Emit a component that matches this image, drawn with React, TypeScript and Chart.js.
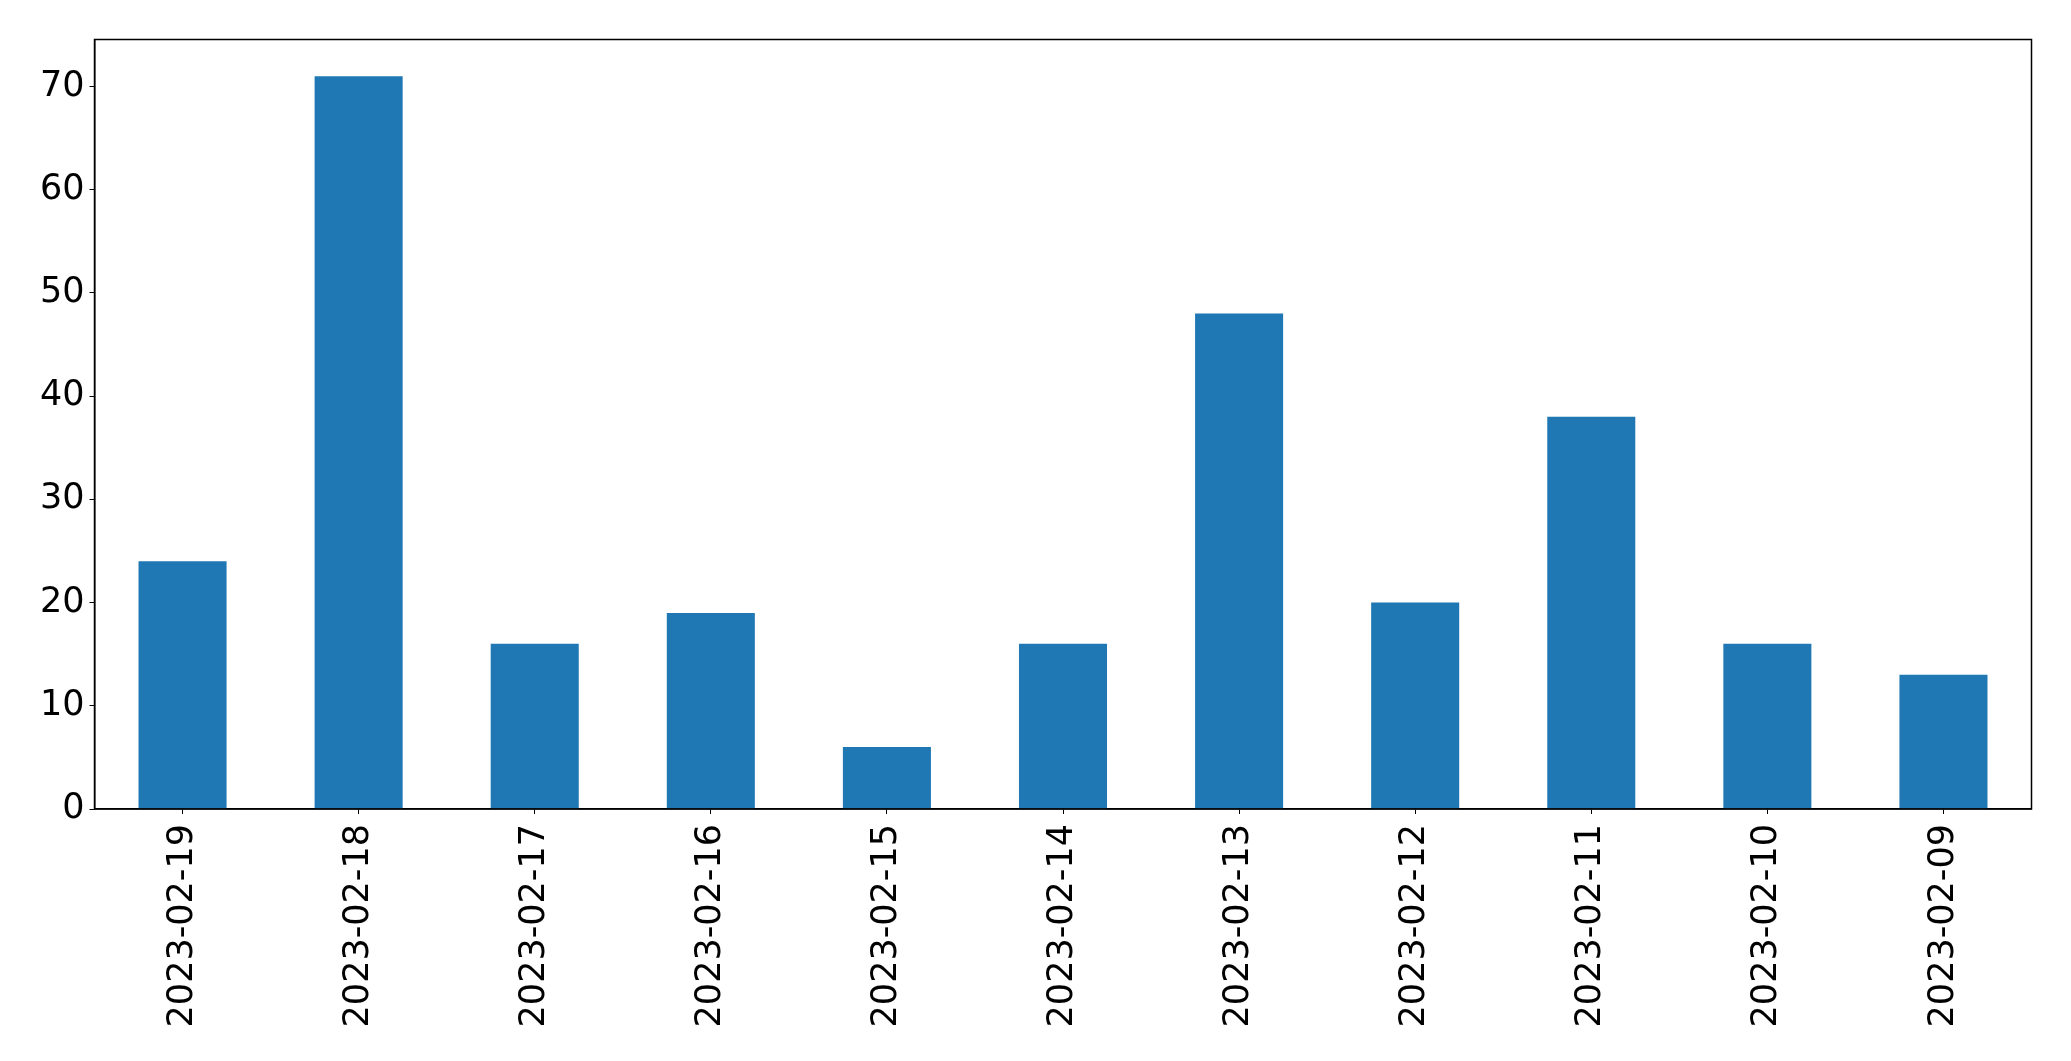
import React, { useEffect, useRef } from "react";
import { Chart, registerables } from "chart.js";

Chart.register(...registerables);

const categories = [
  "2023-02-19", "2023-02-18", "2023-02-17", "2023-02-16", "2023-02-15", "2023-02-14",
  "2023-02-13", "2023-02-12", "2023-02-11", "2023-02-10", "2023-02-09",
];
const values = [24, 71, 16, 19, 6, 16, 48, 20, 38, 16, 13];
const yTicks = [0, 10, 20, 30, 40, 50, 60, 70];

const W = 2071;
const H = 1061;
const LEFT = 94.5;
const RIGHT = 2031.5;
const TOP = 39.5;
const BOTTOM = 809;

const boxPlugin = {
  id: "box",
  afterDraw(chart: any) {
    const { ctx, chartArea } = chart;
    ctx.save();
    ctx.strokeStyle = "#000";
    ctx.lineWidth = 1.5;
    ctx.strokeRect(chartArea.left, chartArea.top, chartArea.right - chartArea.left, chartArea.bottom - chartArea.top);
    ctx.restore();
  },
};

export default function App() {
  const ref = useRef<HTMLCanvasElement>(null);
  useEffect(() => {
    if (!ref.current) return;
    const chart = new Chart(ref.current, {
      type: "bar",
      data: {
        labels: categories,
        datasets: [
          {
            data: values,
            backgroundColor: "#1f77b4",
            barPercentage: 0.5,
            categoryPercentage: 1,
          },
        ],
      },
      plugins: [boxPlugin],
      options: {
        animation: false,
        responsive: false,
        devicePixelRatio: 1,
        layout: { padding: { left: 0, top: TOP, right: W - RIGHT, bottom: 0 } },
        plugins: { legend: { display: false }, tooltip: { enabled: false } },
        scales: {
          x: {
            offset: true,
            grid: { drawOnChartArea: false, drawTicks: true, tickLength: 5, color: "#000", offset: false },
            border: { display: true, color: "#000", width: 1.5 },
            ticks: {
              color: "#000",
              font: { family: "DejaVu Sans", size: 35 },
              minRotation: 90,
              maxRotation: 90,
              padding: 10,
              autoSkip: false,
            },
            afterFit(scale: any) {
              scale.height = H - BOTTOM;
            },
          },
          y: {
            min: 0,
            max: 74.55,
            grid: { drawOnChartArea: false, drawTicks: true, tickLength: 5, color: "#000" },
            border: { display: true, color: "#000", width: 1.5 },
            afterBuildTicks(scale: any) {
              scale.ticks = yTicks.map((v) => ({ value: v }));
            },
            ticks: {
              color: "#000",
              font: { family: "DejaVu Sans", size: 35 },
              padding: 5,
            },
            afterFit(scale: any) {
              scale.width = LEFT;
            },
          },
        },
      },
    });
    return () => chart.destroy();
  }, []);
  return (
    <div style={{ position: "fixed", left: 0, top: 0, width: W, height: H, background: "#fff" }}>
      <canvas ref={ref} width={W} height={H} style={{ width: W, height: H, display: "block" }} />
    </div>
  );
}
